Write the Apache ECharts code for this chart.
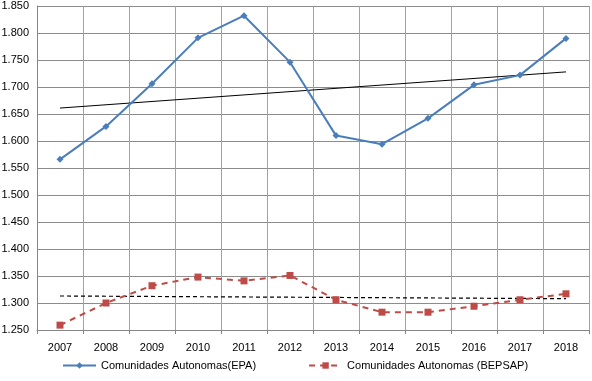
<!DOCTYPE html>
<html><head><meta charset="utf-8">
<script src="https://cdn.jsdelivr.net/npm/echarts@6/dist/echarts.min.js"></script>
<style>html,body{margin:0;padding:0;background:#fff}#c{width:592px;height:381px}</style>
</head><body><div id="c"></div>
<script>
const years = ['2007','2008','2009','2010','2011','2012','2013','2014','2015','2016','2017','2018'];
const epa = [1.566,1.627,1.706,1.791,1.832,1.746,1.610,1.594,1.642,1.704,1.722,1.790];
const bepsap = [1.259,1.300,1.332,1.348,1.341,1.351,1.306,1.283,1.283,1.294,1.306,1.317];
const epaTrendEnds = [1.661,1.728];
const bepsapTrendEnds = [1.313,1.308];
const yTicks = {min:1.25, max:1.85, interval:0.05};

function ends(e){ const a = years.map(()=>null); a[0]=e[0]; a[a.length-1]=e[1]; return a; }

const chart = echarts.init(document.getElementById('c'));
const font = 'Liberation Sans, Arial, sans-serif';
chart.setOption({
  animation:false,
  grid:{left:37,right:3,top:6,bottom:51,containLabel:false,outerBoundsMode:'none'},
  legend:{
    bottom:5, left:57, itemGap:52, itemWidth:33, itemHeight:8,
    data:['Comunidades Autonomas(EPA)','Comunidades Autonomas (BEPSAP)'],
    textStyle:{fontFamily:font,fontSize:11,color:'#000'}
  },
  xAxis:{
    type:'category', data:years, boundaryGap:true,
    axisLine:{lineStyle:{color:'#868686'}},
    axisTick:{show:true,length:4,lineStyle:{color:'#868686'}},
    axisLabel:{fontFamily:font,fontSize:11,color:'#000',margin:12},
    splitLine:{show:true,lineStyle:{color:'#8AA6CE',width:1}}
  },
  yAxis:{
    type:'value', min:yTicks.min, max:yTicks.max, interval:yTicks.interval,
    axisLine:{show:true,lineStyle:{color:'#868686'}},
    axisTick:{show:false},
    axisLabel:{fontFamily:font,fontSize:11,color:'#000',margin:8,formatter:v=>v.toFixed(3)},
    splitLine:{show:true,lineStyle:{color:'#8C8C8C',width:1}}
  },
  series:[
    {name:'Comunidades Autonomas(EPA)',type:'line',data:epa,symbol:'diamond',symbolSize:7,
     itemStyle:{color:'#4A7EBB'},lineStyle:{color:'#4A7EBB',width:2},z:5},
    {name:'Comunidades Autonomas (BEPSAP)',type:'line',data:bepsap,symbol:'rect',symbolSize:7,
     itemStyle:{color:'#BE4B48'},lineStyle:{color:'#BE4B48',width:2,type:[6,5]},z:5},
    {name:'trendEPA',type:'line',data:ends(epaTrendEnds),connectNulls:true,showSymbol:false,symbol:'none',
     lineStyle:{color:'#000',width:1},z:4,silent:true},
    {name:'trendBEPSAP',type:'line',data:ends(bepsapTrendEnds),connectNulls:true,showSymbol:false,symbol:'none',
     lineStyle:{color:'#000',width:1.2,type:[4,3]},z:4,silent:true}
  ]
});
</script></body></html>
